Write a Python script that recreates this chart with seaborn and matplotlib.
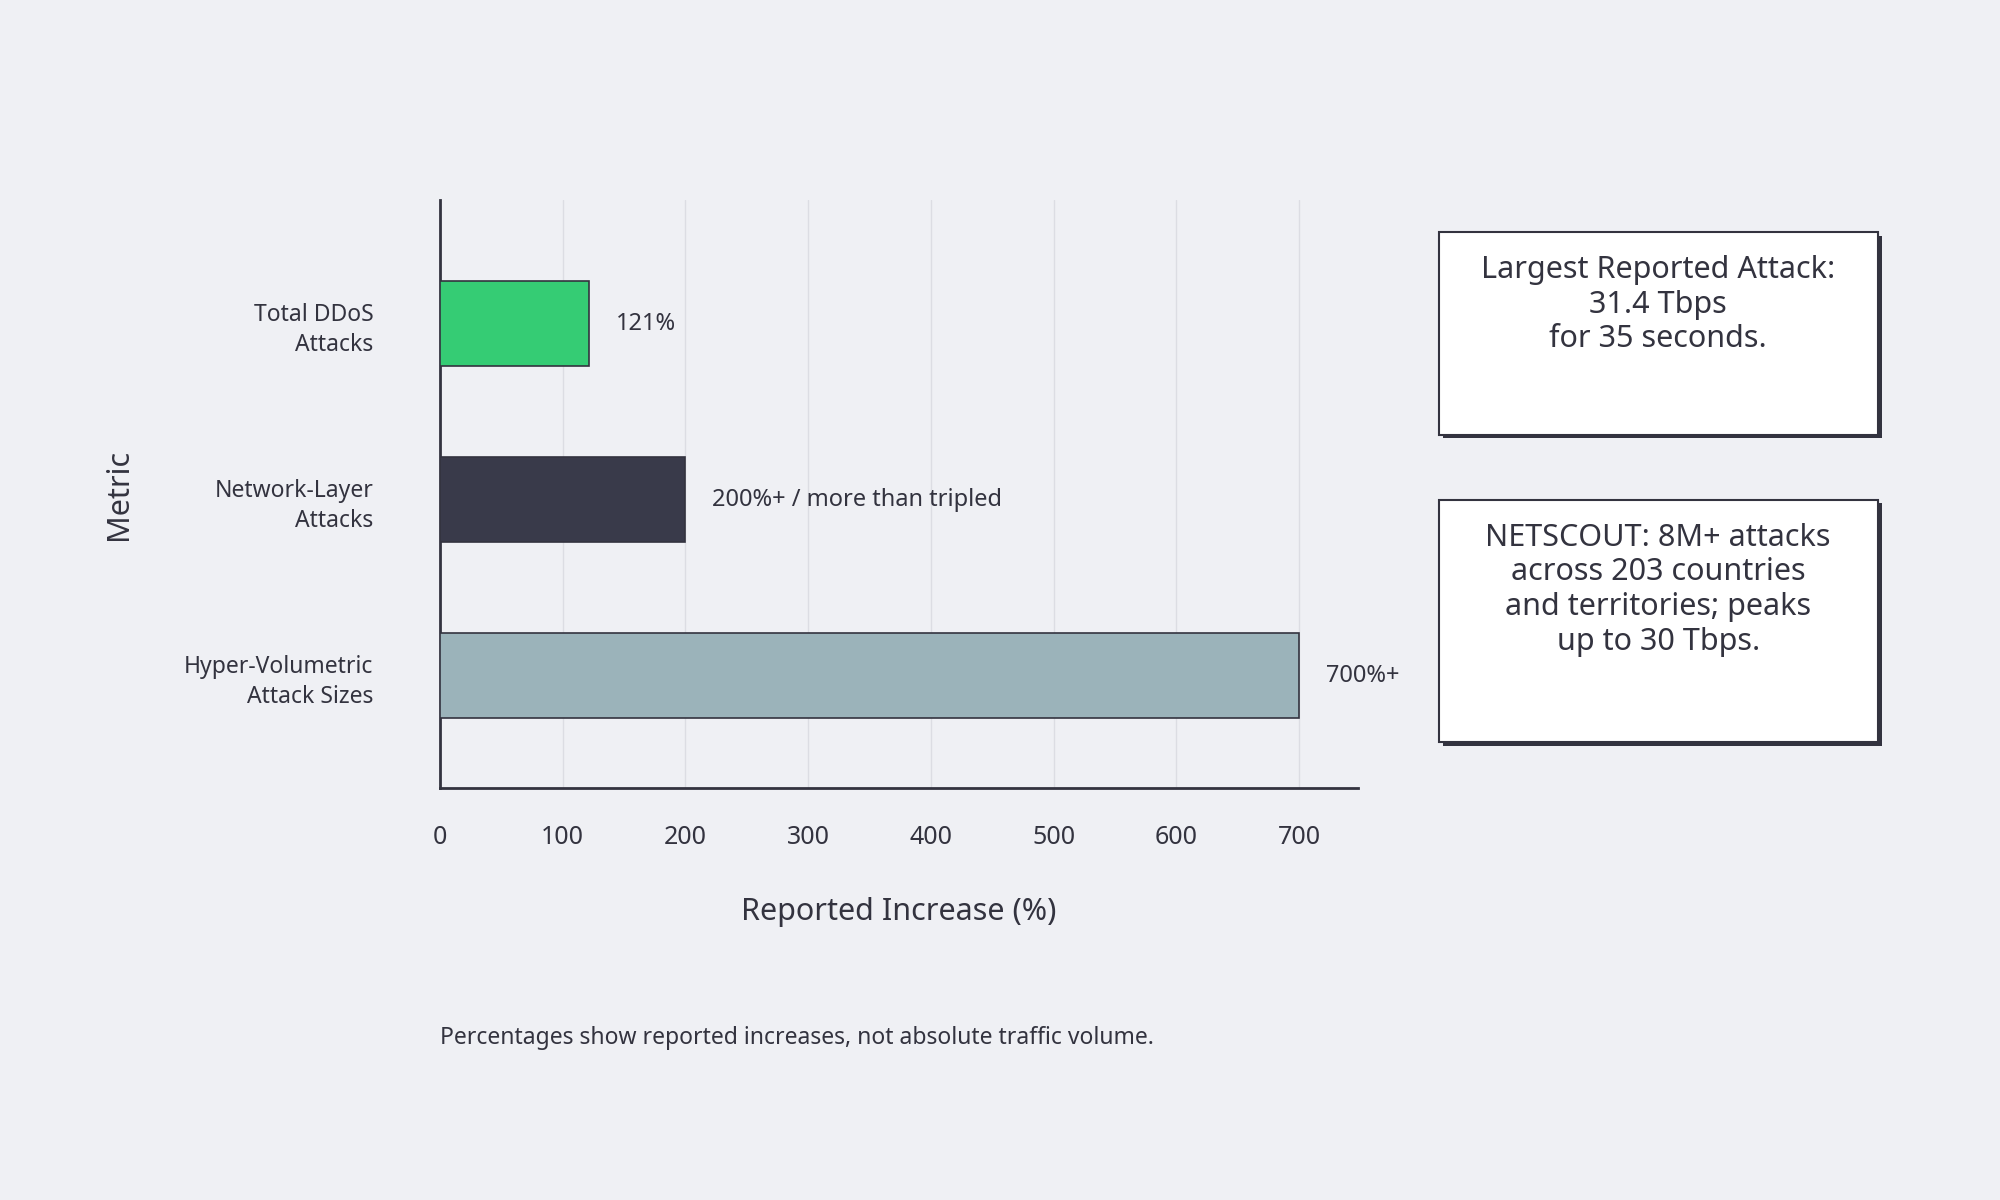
import matplotlib
matplotlib.use("Agg")
import matplotlib.pyplot as plt
import seaborn as sns
import pandas as pd
from matplotlib.patches import Rectangle

categories = ["Total DDoS\nAttacks", "Network-Layer\nAttacks", "Hyper-Volumetric\nAttack Sizes"]
values = [121, 200, 700]
labels = ["121%", "200%+ / more than tripled", "700%+"]
colors = ["#35cc74", "#393a4a", "#9bb3ba"]
xticks = [0, 100, 200, 300, 400, 500, 600, 700]

bg = "#eff0f4"
ink = "#33333f"
sns.set_theme(style="white")
plt.rcParams["font.family"] = ["Noto Sans", "DejaVu Sans"]

df = pd.DataFrame({"Metric": categories, "Value": values})
fig = plt.figure(figsize=(20, 12), dpi=100, facecolor=bg)
ax = fig.add_axes([0.22, 0.343, 0.459, 0.49], facecolor=bg)
sns.barplot(data=df, x="Value", y="Metric", hue="Metric", palette=colors, legend=False,
            saturation=1, width=0.48, edgecolor=ink, linewidth=1.2, ax=ax, zorder=3)
ax.set_xlim(0, 748)
ax.set_ylim(2.64, -0.70)
ax.set_xticks(xticks)
ax.grid(axis="x", color="#dcdde3", linewidth=1, zorder=0)
for s in ["top", "right"]:
    ax.spines[s].set_visible(False)
for s in ["left", "bottom"]:
    ax.spines[s].set_color(ink)
    ax.spines[s].set_linewidth(2)
ax.tick_params(axis="x", length=8, width=1.5, color=ink, labelsize=18, labelcolor=ink, pad=18)
ax.tick_params(axis="y", length=0, labelsize=16.5, labelcolor=ink, pad=48)
for t in ax.get_yticklabels():
    t.set_ha("right")
    t.set_multialignment("right")
    t.set_linespacing(1.35)
ax.set_xlabel("Reported Increase (%)", fontsize=22, color=ink, labelpad=34)
ax.set_ylabel("Metric", fontsize=22, color=ink, labelpad=36)
for i, (v, l) in enumerate(zip(values, labels)):
    ax.text(v + 22, i, l, va="center", ha="left", fontsize=17, color=ink)

fig.text(0.22, 0.135, "Percentages show reported increases, not absolute traffic volume.",
         fontsize=16.5, color=ink, ha="left", va="center")

def box(x0, y0, x1, y1, txt):
    W, H = 1568, 941
    fig.patches.append(Rectangle((x0 / W + 0.002, 1 - y1 / H - 0.003), (x1 - x0) / W, (y1 - y0) / H,
                                 transform=fig.transFigure, facecolor=ink, edgecolor="none", zorder=1))
    fig.patches.append(Rectangle((x0 / W, 1 - y1 / H), (x1 - x0) / W, (y1 - y0) / H,
                                 transform=fig.transFigure, facecolor="white", edgecolor=ink,
                                 linewidth=1.5, zorder=2))
    fig.text((x0 + x1) / 2 / W, 1 - (y0 + 18) / H, txt, ha="center", va="top",
             fontsize=22, color=ink, linespacing=1.2, zorder=3)

box(1128, 182, 1472, 341, "Largest Reported Attack:\n31.4 Tbps\nfor 35 seconds.")
box(1128, 392, 1472, 582, "NETSCOUT: 8M+ attacks\nacross 203 countries\nand territories; peaks\nup to 30 Tbps.")

fig.savefig("out.png", dpi=100, facecolor=bg)
